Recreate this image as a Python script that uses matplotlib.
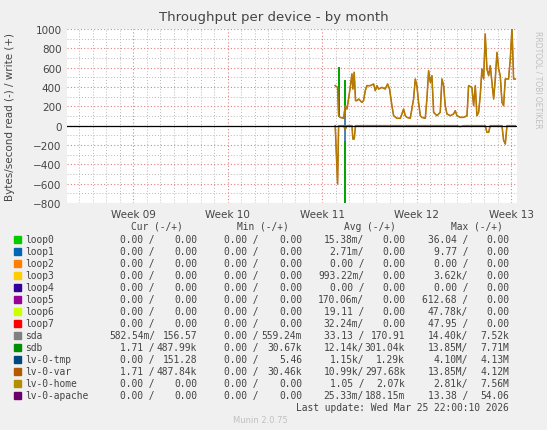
import matplotlib
matplotlib.use("Agg")
import matplotlib.pyplot as plt
from matplotlib.ticker import MultipleLocator

weeks = [11.137,11.162,11.173,11.190,11.226,11.243,11.261,11.278,11.296,11.314,11.324,11.338,11.352,11.367,11.384,11.402,11.420,11.437,11.455,11.472,11.508,11.543,11.561,11.578,11.596,11.631,11.666,11.691,11.712,11.737,11.755,11.790,11.825,11.843,11.860,11.878,11.896,11.931,11.966,11.984,12.001,12.019,12.037,12.054,12.090,12.107,12.125,12.143,12.160,12.178,12.213,12.248,12.266,12.284,12.301,12.319,12.354,12.389,12.407,12.425,12.460,12.495,12.531,12.548,12.583,12.601,12.619,12.636,12.654,12.671,12.689,12.707,12.724,12.742,12.760,12.777,12.795,12.813,12.830,12.848,12.866,12.883,12.901,12.918,12.936,12.954,12.971,12.989,13.007,13.024,13.042]
write = [414,396,103,86,76,207,172,276,396,535,379,552,259,259,276,259,241,259,362,414,414,431,362,414,379,396,379,431,379,207,103,76,76,121,172,103,86,76,276,483,414,241,103,86,76,276,569,448,517,138,103,138,483,414,207,121,103,121,155,103,86,86,103,414,396,207,414,103,138,310,586,483,948,586,517,621,448,276,483,758,586,517,241,207,483,483,483,689,1017,483,483]
read = [0,-603,0,0,0,-40,0,0,0,0,-138,-138,0,0,0,0,0,0,0,0,0,0,0,0,0,0,0,0,0,0,0,0,0,0,-8,0,0,0,0,0,0,0,0,0,0,0,0,0,0,0,0,0,0,0,0,0,0,0,0,0,-10,0,0,0,0,0,0,0,0,0,0,0,0,-69,-69,0,0,0,0,0,0,0,0,-150,-190,0,0,0,0,0,0]
sdb_spike_x = [11.173, 11.173, None, 11.243, 11.243]
sdb_spike_y = [593, 100, None, 465, -800]
tmp_x = [11.243, 11.243]
tmp_y = [200, -150]

names = ["loop0","loop1","loop2","loop3","loop4","loop5","loop6","loop7","sda","sdb","lv-0-tmp","lv-0-var","lv-0-home","lv-0-apache"]
colors = ["#00CC00","#0066B3","#FF8000","#FFCC00","#330099","#990099","#CCFF00","#FF0000","#808080","#008F00","#00487D","#B35A00","#B38F00","#6B006B"]
cur = [("0.00 ","0.00 "),("0.00 ","0.00 "),("0.00 ","0.00 "),("0.00 ","0.00 "),("0.00 ","0.00 "),("0.00 ","0.00 "),("0.00 ","0.00 "),("0.00 ","0.00 "),("582.54m","156.57 "),("1.71 ","487.99k"),("0.00 ","151.28 "),("1.71 ","487.84k"),("0.00 ","0.00 "),("0.00 ","0.00 ")]
mins = [("0.00 ","0.00 ")]*8 + [("0.00 ","559.24m"),("0.00 ","30.67k"),("0.00 ","5.46 "),("0.00 ","30.46k"),("0.00 ","0.00 "),("0.00 ","0.00 ")]
avgs = [("15.38m","0.00 "),("2.71m","0.00 "),("0.00 ","0.00 "),("993.22m","0.00 "),("0.00 ","0.00 "),("170.06m","0.00 "),("19.11 ","0.00 "),("32.24m","0.00 "),("33.13 ","170.91 "),("12.14k","301.04k"),("1.15k","1.29k"),("10.99k","297.68k"),("1.05 ","2.07k"),("25.33m","188.15m")]
maxs = [("36.04 ","0.00 "),("9.77 ","0.00 "),("0.00 ","0.00 "),("3.62k","0.00 "),("0.00 ","0.00 "),("612.68 ","0.00 "),("47.78k","0.00 "),("47.95 ","0.00 "),("14.40k","7.52k"),("13.85M","7.71M"),("4.10M","4.13M"),("13.85M","4.12M"),("2.81k","7.56M"),("13.38 ","54.06 ")]
xtick_pos = [9, 10, 11, 12, 13]
xtick_labels = ["Week 09","Week 10","Week 11","Week 12","Week 13"]

W, H = 547, 431
fig = plt.figure(figsize=(W/100, H/100), dpi=100, facecolor="#F0F0F0")
ax = fig.add_axes([67/W, 1-204/H, 450/W, 174/H], facecolor="white")
ax.set_xlim(8.30, 13.06)
ax.set_ylim(-800, 1000)
ax.yaxis.set_major_locator(MultipleLocator(200))
ax.yaxis.set_minor_locator(MultipleLocator(100))
ax.xaxis.set_minor_locator(MultipleLocator(1/7))
ax.set_xticks(xtick_pos)
ax.set_xticklabels(xtick_labels)
ax.grid(which="minor", color="#B8B8B8", linestyle=(0,(1,2)), linewidth=0.7)
ax.grid(which="major", color="#E08080", linestyle=(0,(1,2)), linewidth=0.8)
ax.set_axisbelow(True)
for s in ax.spines.values():
    s.set_visible(False)
ax.tick_params(which="both", length=0, labelsize=7.5, colors="#444444", pad=4)

ax.plot(sdb_spike_x, sdb_spike_y, color="#00A000", lw=1.4, zorder=4)
ax.plot(tmp_x, tmp_y, color="#4F84B5", lw=1.4, zorder=4)
ax.plot(weeks, write, color=colors[11], lw=1.1, zorder=5)
ax.plot(weeks, write, color=colors[12], lw=0.8, alpha=0.7, zorder=6)
ax.plot(weeks, read, color=colors[11], lw=1.1, zorder=5)
ax.plot(weeks, read, color=colors[12], lw=0.8, alpha=0.7, zorder=6)
ax.axhline(0, color="black", lw=0.9, zorder=7)

fig.text(0.5, 1-18/H, "Throughput per device - by month", ha="center", va="center", fontsize=9.5, color="#444444")
fig.text(10/W, 1-117/H, "Bytes/second read (-) / write (+)", rotation=90, ha="center", va="center", fontsize=7.5, color="#444444")
fig.text(538/W, 1-80/H, "RRDTOOL / TOBI OETIKER", rotation=270, ha="center", va="center", fontsize=5.5, color="#C0C0C0")

mono = dict(family="DejaVu Sans Mono", fontsize=6.9, color="#444444", va="center")
def t(x, y, s, ha="right", **kw):
    d = dict(mono); d.update(kw)
    fig.text(x/W, 1-y/H, s, ha=ha, **d)

for cx, lab in [(157,"Cur (-/+)"),(263,"Min (-/+)"),(370,"Avg (-/+)"),(477,"Max (-/+)")]:
    t(cx, 227, lab, ha="center")
cols = [(cur,155,197),(mins,259,302),(avgs,364,405),(maxs,468,509)]
for i, n in enumerate(names):
    y = 240 + i*12
    fig.patches.append(plt.Rectangle(((14)/W, 1-(y+3.5)/H), 7/W, 7/H, transform=fig.transFigure, color=colors[i], figure=fig))
    t(25, y, n, ha="left")
    for data, xs, xv in cols:
        a, b = data[i]
        t(xs, y, a + "/")
        t(xv, y, b.rstrip() if b.endswith(" ") else b, ha="right")
t(509, 408, "Last update: Wed Mar 25 22:00:10 2026")
fig.text(260/W, 1-421/H, "Munin 2.0.75", ha="center", va="center", fontsize=6, color="#C0C0C0")
fig.savefig("out.png", dpi=100, facecolor=fig.get_facecolor())
